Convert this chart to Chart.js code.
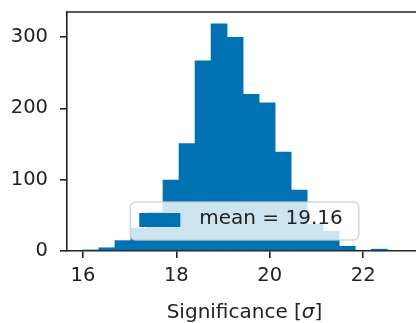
<!DOCTYPE html>
<html>
<head>
<meta charset="utf-8">
<script src="https://cdn.jsdelivr.net/npm/chart.js"></script>
<style>
    html, body { margin: 0; padding: 0; background: #fff; overflow: hidden; }
</style>
</head>
<body>
<canvas id="histChart" width="416" height="323"></canvas>
<script>
// histogram bins (centres) and counts
const binCenters = [16.171, 16.514, 16.857, 17.200, 17.543, 17.886, 18.229, 18.572, 18.915, 19.258,
                    19.601, 19.944, 20.287, 20.630, 20.973, 21.316, 21.659, 22.002, 22.345, 22.688];
const counts = [2, 5, 15, 32, 55, 100, 151, 267, 319, 300, 220, 208, 139, 86, 38, 28, 7, 0, 3, 1];
const xTicks = [16, 18, 20, 22];
const yTicks = [0, 100, 200, 300];
const meanLabel = 'mean = 19.16';
const xTitleParts = ['Significance [', 'σ', ']'];

const BLUE = '#0072b2';
const INK = '#222222';
const FONT = '"DejaVu Sans", sans-serif';

// top spine (right one is cropped off in the original)
const topSpine = {
    id: 'topSpine',
    afterDraw(chart) {
        const { ctx, chartArea } = chart;
        ctx.save();
        ctx.strokeStyle = INK;
        ctx.lineWidth = 1.6;
        ctx.beginPath();
        ctx.moveTo(chartArea.left - 0.8, chartArea.top);
        ctx.lineTo(chartArea.right, chartArea.top);
        ctx.stroke();
        ctx.restore();
    }
};

// x label with italic sigma
const xLabel = {
    id: 'xLabel',
    afterDraw(chart) {
        const { ctx, chartArea } = chart;
        const fonts = ['20px ' + FONT, 'italic 20px ' + FONT, '20px ' + FONT];
        ctx.save();
        ctx.fillStyle = INK;
        ctx.textBaseline = 'alphabetic';
        const widths = xTitleParts.map((t, i) => { ctx.font = fonts[i]; return ctx.measureText(t).width; });
        const total = widths.reduce((a, b) => a + b, 0);
        let x = (chartArea.left + chartArea.right + 6) / 2 - total / 2;
        xTitleParts.forEach((t, i) => {
            ctx.font = fonts[i];
            ctx.fillText(t, x, 318);
            x += widths[i];
        });
        ctx.restore();
    }
};

// matplotlib-like legend, lower center, semi transparent
const boxLegend = {
    id: 'boxLegend',
    afterDraw(chart) {
        const { ctx, chartArea } = chart;
        const ds = chart.data.datasets[0];
        ctx.save();
        ctx.font = '20px ' + FONT;
        const textW = ctx.measureText(ds.label).width;
        const w = textW + 85, h = 38;
        const left = (chartArea.left + chartArea.right + 6) / 2 - w / 2;
        const top = chartArea.bottom - 11 - h;
        ctx.beginPath();
        ctx.roundRect(left, top, w, h, 5);
        ctx.fillStyle = 'rgba(255,255,255,0.8)';
        ctx.fill();
        ctx.strokeStyle = 'rgba(204,204,204,0.8)';
        ctx.lineWidth = 1.5;
        ctx.stroke();
        ctx.fillStyle = ds.backgroundColor;
        ctx.fillRect(left + 9, top + 11, 41, 14);
        ctx.fillStyle = INK;
        ctx.textBaseline = 'alphabetic';
        ctx.fillText(ds.label, left + 69, top + 22);
        ctx.restore();
    }
};

const ctx = document.getElementById('histChart').getContext('2d');
new Chart(ctx, {
    type: 'bar',
    data: {
        datasets: [{
            label: meanLabel,
            data: binCenters.map((x, i) => ({ x: x, y: counts[i] })),
            backgroundColor: BLUE,
            borderWidth: 0,
            barPercentage: 1.04,
            categoryPercentage: 1
        }]
    },
    options: {
        responsive: false,
        animation: false,
        devicePixelRatio: 1,
        layout: { padding: { top: 12, right: 0, bottom: 0, left: 0 } },
        plugins: {
            legend: { display: false },
            tooltip: { enabled: false }
        },
        scales: {
            x: {
                type: 'linear',
                min: 15.66,
                max: 23.13,
                offset: false,
                z: 1,
                afterBuildTicks: s => { s.ticks = xTicks.map(v => ({ value: v })); },
                afterFit: s => { s.height = 72; s.paddingLeft = 0; s.paddingRight = 0; },
                grid: { offset: false, drawOnChartArea: false, drawTicks: true, tickLength: 7, tickColor: INK, lineWidth: 1.6 },
                border: { display: true, color: INK, width: 1.6 },
                ticks: { color: INK, padding: 6, maxRotation: 0, font: { family: FONT, size: 19.5, lineHeight: 1.2 } }
            },
            y: {
                min: 0,
                max: 335,
                z: 1,
                afterBuildTicks: s => { s.ticks = yTicks.map(v => ({ value: v })); },
                afterFit: s => { s.width = 67; s.paddingTop = 0; s.paddingBottom = 0; },
                grid: { drawOnChartArea: false, drawTicks: true, tickLength: 7, tickColor: INK, lineWidth: 1.6 },
                border: { display: true, color: INK, width: 1.6 },
                ticks: { color: INK, padding: 12, font: { family: FONT, size: 19.5, lineHeight: 1 } }
            }
        }
    },
    plugins: [topSpine, xLabel, boxLegend]
});
</script>
</body>
</html>
